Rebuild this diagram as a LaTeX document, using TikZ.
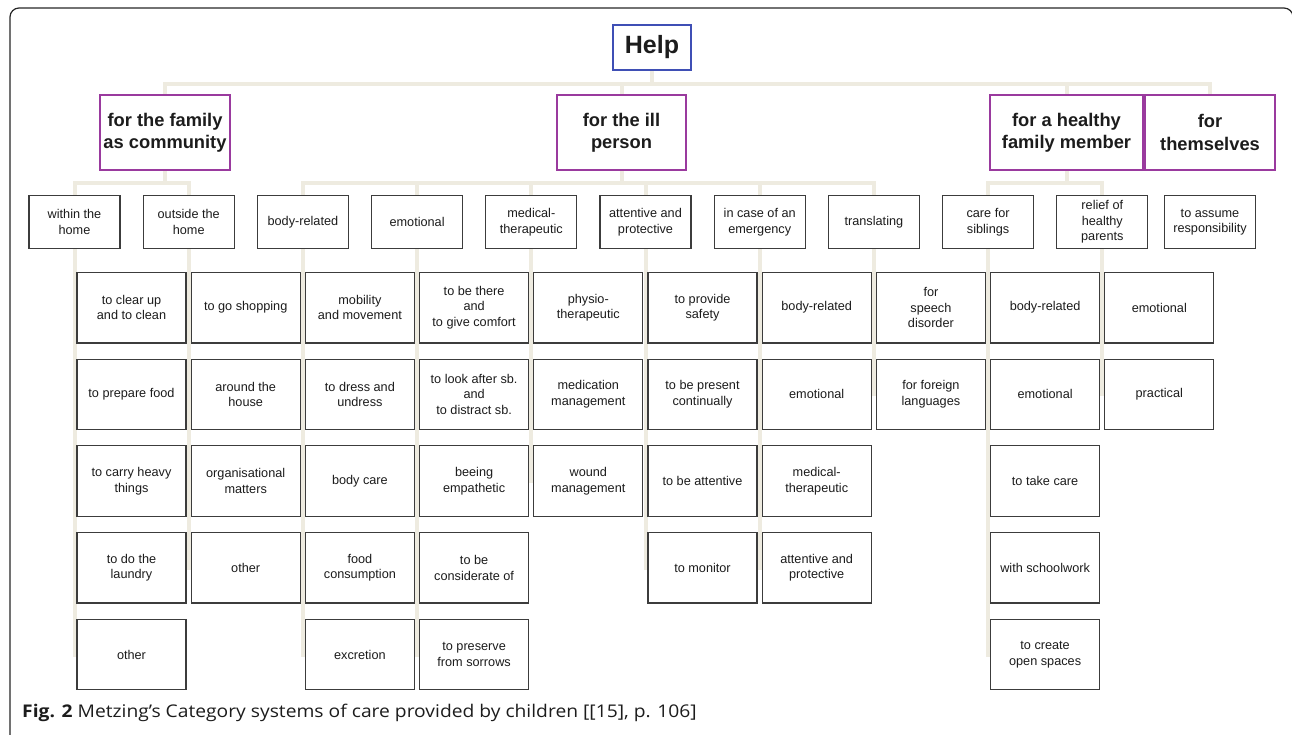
\documentclass[tikz,border=0pt]{standalone}
\usepackage{fontspec}
\setmainfont{Liberation Sans}
\newfontfamily\capfont{Open Sans}
\usetikzlibrary{backgrounds}
\definecolor{conn}{HTML}{EEEBE0}
\definecolor{boxline}{HTML}{3C3C3C}
\definecolor{purp}{HTML}{9A3A9E}
\definecolor{helpblue}{HTML}{3F4FB5}
\definecolor{txt}{HTML}{1C1C1C}
\begin{document}
\begin{tikzpicture}[x=1pt,y=-1pt,
  base/.style={draw, fill=white, align=center, inner sep=0pt, text=txt},
  helpbox/.style={base, draw=helpblue, line width=1.3pt, minimum width=78pt, minimum height=45pt, font=\fontsize{25}{30}\selectfont\bfseries},
  catbox/.style={base, draw=purp, line width=1.3pt, minimum height=75pt, font=\fontsize{18.3}{22.3}\selectfont\bfseries},
  subbox/.style={base, draw=boxline, line width=1.2pt, minimum width=91pt, minimum height=53pt, font=\fontsize{12.7}{15.5}\selectfont},
  leafbox/.style={base, draw=boxline, line width=1.2pt, minimum width=109pt, minimum height=70.5pt, font=\fontsize{12.7}{15.4}\selectfont},
  link/.style={draw=conn, line width=4pt}]
\useasboundingbox (0,0) rectangle (1292,734);
\draw[line width=1.2pt, black!85, rounded corners=9pt] (10,737) -- (10,8) -- (1293,8) -- (1293,737);

% root
\node[helpbox] (help) at (652,47.5) {Help};
% level 1
\node[catbox, minimum width=130pt] (fam) at (165,132.5) {for the family\\as community};
\node[catbox, minimum width=129pt] (ill) at (621.5,132.5) {for the ill\\person};
\node[catbox, minimum width=153pt] (hea) at (1066.5,132.5) {for a healthy\\family member};
\node[catbox, minimum width=130pt] (them) at (1210,132.5) {for\\themselves};
% level 2
\node[subbox] (within) at (74.5,222) {within the\\home};
\node[subbox] (outside) at (188.7,222) {outside the\\home};
\node[subbox] (body) at (302.9,222) {body-related};
\node[subbox] (emo) at (417.1,222) {emotional};
\node[subbox] (med) at (531.3,222) {medical-\\therapeutic};
\node[subbox] (att) at (645.5,222) {attentive and\\protective};
\node[subbox] (emer) at (759.7,222) {in case of an\\emergency};
\node[subbox] (trans) at (873.9,222) {translating};
\node[subbox] (sib) at (988.1,222) {care for\\siblings};
\node[subbox] (rel) at (1102.3,222) {relief of\\healthy\\parents};
\node[subbox] (resp) at (1210,222) {to assume\\responsibility};
% level 3
\node[leafbox] (within1) at (131.5,307.7) {to clear up\\and to clean};
\node[leafbox] (within2) at (131.5,394.4) {to prepare food};
\node[leafbox] (within3) at (131.5,481.1) {to carry heavy\\things};
\node[leafbox] (within4) at (131.5,567.8) {to do the\\laundry};
\node[leafbox] (within5) at (131.5,654.5) {other};
\node[leafbox] (outside1) at (245.7,307.7) {to go shopping};
\node[leafbox] (outside2) at (245.7,394.4) {around the\\house};
\node[leafbox] (outside3) at (245.7,481.1) {organisational\\matters};
\node[leafbox] (outside4) at (245.7,567.8) {other};
\node[leafbox] (body1) at (359.9,307.7) {mobility\\and movement};
\node[leafbox] (body2) at (359.9,394.4) {to dress and\\undress};
\node[leafbox] (body3) at (359.9,481.1) {body care};
\node[leafbox] (body4) at (359.9,567.8) {food\\consumption};
\node[leafbox] (body5) at (359.9,654.5) {excretion};
\node[leafbox] (emo1) at (474.1,307.7) {to be there\\and\\to give comfort};
\node[leafbox] (emo2) at (474.1,394.4) {to look after sb.\\and\\to distract sb.};
\node[leafbox] (emo3) at (474.1,481.1) {beeing\\empathetic};
\node[leafbox] (emo4) at (474.1,567.8) {to be\\considerate of};
\node[leafbox] (emo5) at (474.1,654.5) {to preserve\\from sorrows};
\node[leafbox] (med1) at (588.3,307.7) {physio-\\therapeutic};
\node[leafbox] (med2) at (588.3,394.4) {medication\\management};
\node[leafbox] (med3) at (588.3,481.1) {wound\\management};
\node[leafbox] (att1) at (702.5,307.7) {to provide\\safety};
\node[leafbox] (att2) at (702.5,394.4) {to be present\\continually};
\node[leafbox] (att3) at (702.5,481.1) {to be attentive};
\node[leafbox] (att4) at (702.5,567.8) {to monitor};
\node[leafbox] (emer1) at (816.7,307.7) {body-related};
\node[leafbox] (emer2) at (816.7,394.4) {emotional};
\node[leafbox] (emer3) at (816.7,481.1) {medical-\\therapeutic};
\node[leafbox] (emer4) at (816.7,567.8) {attentive and\\protective};
\node[leafbox] (trans1) at (930.9,307.7) {for\\speech\\disorder};
\node[leafbox] (trans2) at (930.9,394.4) {for foreign\\languages};
\node[leafbox] (sib1) at (1045.1,307.7) {body-related};
\node[leafbox] (sib2) at (1045.1,394.4) {emotional};
\node[leafbox] (sib3) at (1045.1,481.1) {to take care};
\node[leafbox] (sib4) at (1045.1,567.8) {with schoolwork};
\node[leafbox] (sib5) at (1045.1,654.5) {to create\\open spaces};
\node[leafbox] (rel1) at (1159.3,307.7) {emotional};
\node[leafbox] (rel2) at (1159.3,394.4) {practical};

% caption
\node[anchor=west, inner sep=0pt, text=txt, font=\capfont\fontsize{17.5}{20}\selectfont] (cap) at (22,713)
  {\scalebox{1.1}[1]{\textbf{Fig. 2} Metzing’s Category systems of care provided by children [[15], p. 106]}};

\begin{pgfonlayer}{background}
  \foreach \c in {fam,ill,hea,them}
    \draw[link] (help.south) -- ++(0,13) -| (\c.north);
  \foreach \c in {within,outside}
    \draw[link] (fam.south) -- ++(0,12.5) -| (\c.north);
  \foreach \c in {body,emo,med,att,emer,trans}
    \draw[link] (ill.south) -- ++(0,12.5) -| (\c.north);
  \foreach \c in {sib,rel}
    \draw[link] (hea.south) -- ++(0,12.5) -| (\c.north);
  \foreach \p/\n in {within/5,outside/4,body/5,emo/5,med/3,att/4,emer/4,trans/2,sib/5,rel/2}
    \foreach \k in {1,...,\n}
      \draw[link] (\p.south) |- (\p\k.west);
\end{pgfonlayer}
\end{tikzpicture}
\end{document}
